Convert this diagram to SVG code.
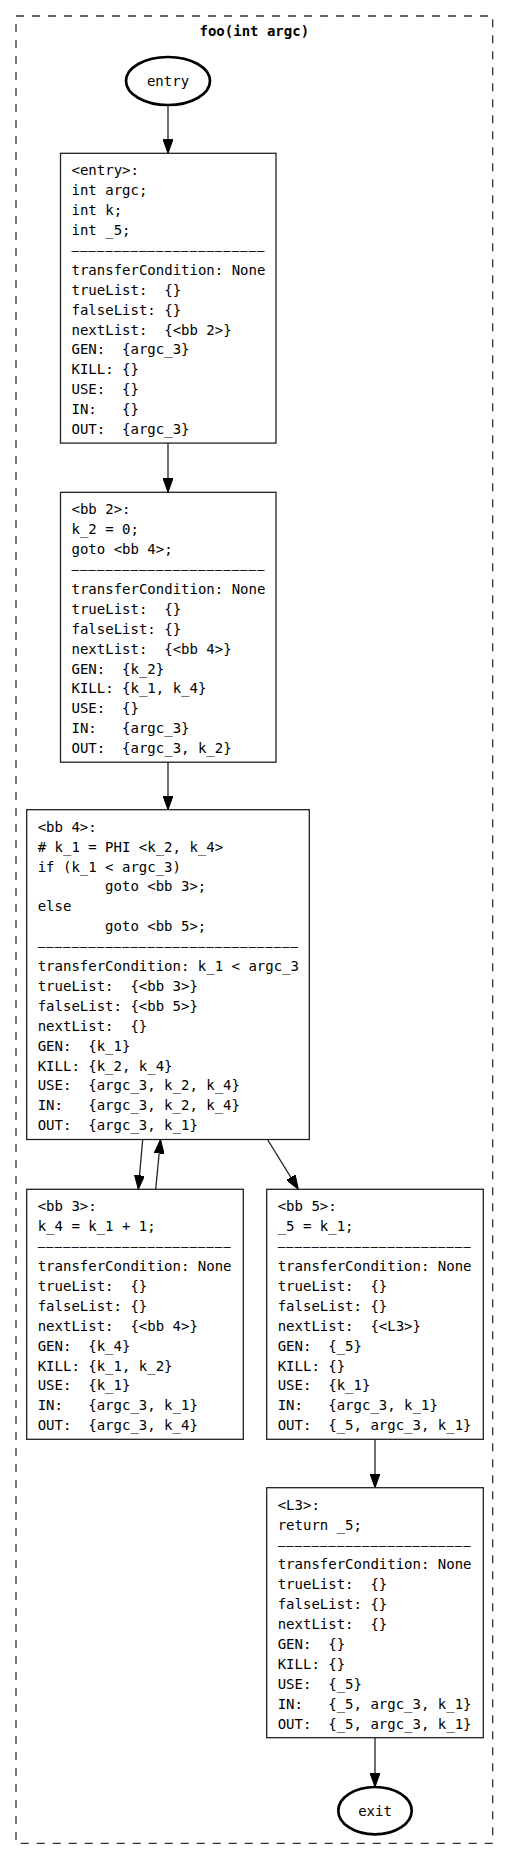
<svg xmlns="http://www.w3.org/2000/svg" width="509" height="1861" viewBox="0 0 509 1861" xml:space="preserve">
<style>
text { font-family: "DejaVu Sans Mono", "Liberation Mono", monospace; font-size: 14px; fill: #000; white-space: pre; }
.title { font-weight: bold; text-anchor: middle; }
.oval { fill: none; stroke: #000; stroke-width: 2.7; }
.box { fill: #fff; stroke: #222; stroke-width: 1.3; }
.edge { fill: none; stroke: #222; stroke-width: 1.3; marker-end: url(#arr); }
.cluster { fill: none; stroke: #333; stroke-width: 1.3; stroke-dasharray: 8 8; }
.c { text-anchor: middle; }
.sep { font-size: 12.4px; letter-spacing: 0.97px; }
</style>
<defs>
<marker id="arr" markerUnits="userSpaceOnUse" markerWidth="14" markerHeight="10" refX="14" refY="5" orient="auto">
<path d="M0,0 L14,5 L0,10 z" fill="#000" stroke="#000" stroke-width="1"/>
</marker>
</defs>
<rect width="509" height="1861" fill="#fff"/>
<g id="cluster_foo">
<rect class="cluster" x="16" y="16" width="476.7" height="1827.3"/>
<text class="title" x="254.3" y="36">foo(int argc)</text>
</g>
<g id="connectors">
<line class="edge" x1="168" y1="105" x2="168" y2="153.3"/>
<line class="edge" x1="168" y1="443.1" x2="168" y2="492.3"/>
<line class="edge" x1="168" y1="762.2" x2="168" y2="809.7"/>
<line class="edge" x1="142.7" y1="1139.5" x2="138.3" y2="1189.3"/>
<line class="edge" x1="155.7" y1="1189.3" x2="160.5" y2="1139.5"/>
<line class="edge" x1="267.5" y1="1139.5" x2="298.3" y2="1189.3"/>
<line class="edge" x1="375" y1="1439.3" x2="375" y2="1487.7"/>
<line class="edge" x1="375" y1="1737.7" x2="375" y2="1787"/>
</g>
<g id="entry">
<ellipse class="oval" cx="168" cy="81" rx="42" ry="24"/>
<text class="c" x="168" y="86">entry</text>
</g>
<g id="bb_entry">
<rect class="box" x="60.5" y="153.3" width="215.5" height="289.8"/>
<text x="71.5" y="175.3"><tspan x="71.5" dy="0">&lt;entry&gt;:</tspan><tspan x="71.5" dy="19.9">int argc;</tspan><tspan x="71.5" dy="19.9">int k;</tspan><tspan x="71.5" dy="19.9">int _5;</tspan><tspan class="sep" x="71.5" dy="19.9">———————————————————————</tspan><tspan x="71.5" dy="19.9">transferCondition: None</tspan><tspan x="71.5" dy="19.9">trueList:  {}</tspan><tspan x="71.5" dy="19.9">falseList: {}</tspan><tspan x="71.5" dy="19.9">nextList:  {&lt;bb 2&gt;}</tspan><tspan x="71.5" dy="19.9">GEN:  {argc_3}</tspan><tspan x="71.5" dy="19.9">KILL: {}</tspan><tspan x="71.5" dy="19.9">USE:  {}</tspan><tspan x="71.5" dy="19.9">IN:   {}</tspan><tspan x="71.5" dy="19.9">OUT:  {argc_3}</tspan></text>
</g>
<g id="bb_2">
<rect class="box" x="60.5" y="492.3" width="215.5" height="269.9"/>
<text x="71.5" y="514.3"><tspan x="71.5" dy="0">&lt;bb 2&gt;:</tspan><tspan x="71.5" dy="19.9">k_2 = 0;</tspan><tspan x="71.5" dy="19.9">goto &lt;bb 4&gt;;</tspan><tspan class="sep" x="71.5" dy="19.9">———————————————————————</tspan><tspan x="71.5" dy="19.9">transferCondition: None</tspan><tspan x="71.5" dy="19.9">trueList:  {}</tspan><tspan x="71.5" dy="19.9">falseList: {}</tspan><tspan x="71.5" dy="19.9">nextList:  {&lt;bb 4&gt;}</tspan><tspan x="71.5" dy="19.9">GEN:  {k_2}</tspan><tspan x="71.5" dy="19.9">KILL: {k_1, k_4}</tspan><tspan x="71.5" dy="19.9">USE:  {}</tspan><tspan x="71.5" dy="19.9">IN:   {argc_3}</tspan><tspan x="71.5" dy="19.9">OUT:  {argc_3, k_2}</tspan></text>
</g>
<g id="bb_4">
<rect class="box" x="26.7" y="809.7" width="282.6" height="329.8"/>
<text x="37.7" y="831.7"><tspan x="37.7" dy="0">&lt;bb 4&gt;:</tspan><tspan x="37.7" dy="19.9"># k_1 = PHI &lt;k_2, k_4&gt;</tspan><tspan x="37.7" dy="19.9">if (k_1 &lt; argc_3)</tspan><tspan x="37.7" dy="19.9">        goto &lt;bb 3&gt;;</tspan><tspan x="37.7" dy="19.9">else</tspan><tspan x="37.7" dy="19.9">        goto &lt;bb 5&gt;;</tspan><tspan class="sep" x="37.7" dy="19.9">———————————————————————————————</tspan><tspan x="37.7" dy="19.9">transferCondition: k_1 &lt; argc_3</tspan><tspan x="37.7" dy="19.9">trueList:  {&lt;bb 3&gt;}</tspan><tspan x="37.7" dy="19.9">falseList: {&lt;bb 5&gt;}</tspan><tspan x="37.7" dy="19.9">nextList:  {}</tspan><tspan x="37.7" dy="19.9">GEN:  {k_1}</tspan><tspan x="37.7" dy="19.9">KILL: {k_2, k_4}</tspan><tspan x="37.7" dy="19.9">USE:  {argc_3, k_2, k_4}</tspan><tspan x="37.7" dy="19.9">IN:   {argc_3, k_2, k_4}</tspan><tspan x="37.7" dy="19.9">OUT:  {argc_3, k_1}</tspan></text>
</g>
<g id="bb_3">
<rect class="box" x="26.7" y="1189.3" width="216.6" height="250"/>
<text x="37.7" y="1211.3"><tspan x="37.7" dy="0">&lt;bb 3&gt;:</tspan><tspan x="37.7" dy="19.9">k_4 = k_1 + 1;</tspan><tspan class="sep" x="37.7" dy="19.9">———————————————————————</tspan><tspan x="37.7" dy="19.9">transferCondition: None</tspan><tspan x="37.7" dy="19.9">trueList:  {}</tspan><tspan x="37.7" dy="19.9">falseList: {}</tspan><tspan x="37.7" dy="19.9">nextList:  {&lt;bb 4&gt;}</tspan><tspan x="37.7" dy="19.9">GEN:  {k_4}</tspan><tspan x="37.7" dy="19.9">KILL: {k_1, k_2}</tspan><tspan x="37.7" dy="19.9">USE:  {k_1}</tspan><tspan x="37.7" dy="19.9">IN:   {argc_3, k_1}</tspan><tspan x="37.7" dy="19.9">OUT:  {argc_3, k_4}</tspan></text>
</g>
<g id="bb_5">
<rect class="box" x="266.7" y="1189.3" width="216.6" height="250"/>
<text x="277.7" y="1211.3"><tspan x="277.7" dy="0">&lt;bb 5&gt;:</tspan><tspan x="277.7" dy="19.9">_5 = k_1;</tspan><tspan class="sep" x="277.7" dy="19.9">———————————————————————</tspan><tspan x="277.7" dy="19.9">transferCondition: None</tspan><tspan x="277.7" dy="19.9">trueList:  {}</tspan><tspan x="277.7" dy="19.9">falseList: {}</tspan><tspan x="277.7" dy="19.9">nextList:  {&lt;L3&gt;}</tspan><tspan x="277.7" dy="19.9">GEN:  {_5}</tspan><tspan x="277.7" dy="19.9">KILL: {}</tspan><tspan x="277.7" dy="19.9">USE:  {k_1}</tspan><tspan x="277.7" dy="19.9">IN:   {argc_3, k_1}</tspan><tspan x="277.7" dy="19.9">OUT:  {_5, argc_3, k_1}</tspan></text>
</g>
<g id="L3">
<rect class="box" x="266.7" y="1487.7" width="216.6" height="250"/>
<text x="277.7" y="1509.7"><tspan x="277.7" dy="0">&lt;L3&gt;:</tspan><tspan x="277.7" dy="19.9">return _5;</tspan><tspan class="sep" x="277.7" dy="19.9">———————————————————————</tspan><tspan x="277.7" dy="19.9">transferCondition: None</tspan><tspan x="277.7" dy="19.9">trueList:  {}</tspan><tspan x="277.7" dy="19.9">falseList: {}</tspan><tspan x="277.7" dy="19.9">nextList:  {}</tspan><tspan x="277.7" dy="19.9">GEN:  {}</tspan><tspan x="277.7" dy="19.9">KILL: {}</tspan><tspan x="277.7" dy="19.9">USE:  {_5}</tspan><tspan x="277.7" dy="19.9">IN:   {_5, argc_3, k_1}</tspan><tspan x="277.7" dy="19.9">OUT:  {_5, argc_3, k_1}</tspan></text>
</g>
<g id="exit">
<ellipse class="oval" cx="375" cy="1810.7" rx="36.7" ry="23.7"/>
<text class="c" x="375" y="1815.7">exit</text>
</g>
</svg>
